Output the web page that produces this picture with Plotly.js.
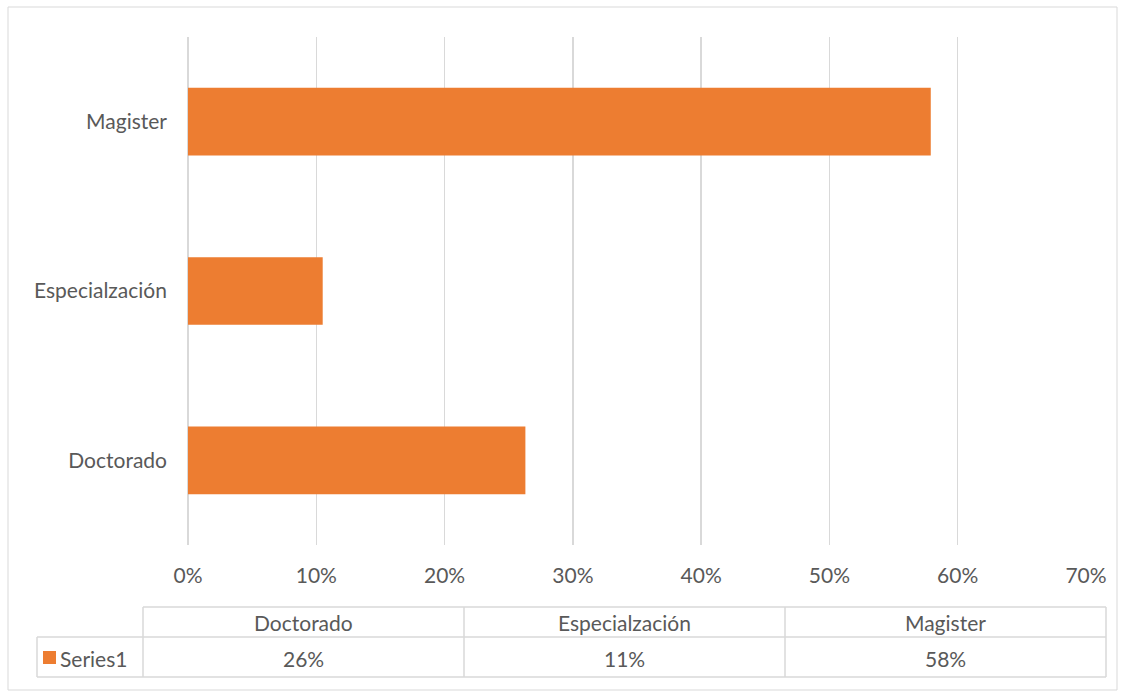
<!DOCTYPE html>
<html><head><meta charset="utf-8">
<script src="https://cdn.plot.ly/plotly-3.0.1.min.js"></script>
<style>body{margin:0;background:#fff}#c{width:1124px;height:700px}</style>
</head><body><div id="c"></div>
<script>
const categories = ["Doctorado", "Especialzación", "Magister"];
const seriesName = "Series1";
const values = [0.263, 0.105, 0.579];
const tickVals = [0, 0.1, 0.2, 0.3, 0.4, 0.5, 0.6, 0.7];
const tickText = ["0%", "10%", "20%", "30%", "40%", "50%", "60%", "70%"];

const W = 1124, H = 700;
const px = x => x / W, py = y => 1 - y / H;
const FONT = "Lato, 'Open Sans', sans-serif";
const FS = 21;
const TXT = "#595959", GRID = "#d9d9d9", BAR = "#ED7D31";

const shapes = [];
const annotations = [];
// outer border
shapes.push({type:"rect", xref:"paper", yref:"paper", x0:px(8), x1:px(1117), y0:py(690), y1:py(7), line:{color:GRID, width:1}});
// data table
const colX = [37, 143, 464, 785, 1106];
const line = (x0,y0,x1,y1) => shapes.push({type:"line", xref:"paper", yref:"paper", x0:px(x0), x1:px(x1), y0:py(y0), y1:py(y1), line:{color:GRID, width:1.5}});
line(143, 607, 1106, 607);
line(37, 637, 1106, 637);
line(37, 677, 1106, 677);
line(37, 637, 37, 677);
for (let i = 1; i < colX.length; i++) line(colX[i], 607, colX[i], 677);
categories.forEach((c, i) => {
  const cx = (colX[i+1] + colX[i+2]) / 2;
  annotations.push({xref:"paper", yref:"paper", x:px(cx), y:py(622), text:c, showarrow:false, xanchor:"center", yanchor:"middle", font:{family:FONT, size:FS, color:TXT}});
  annotations.push({xref:"paper", yref:"paper", x:px(cx), y:py(658), text:Math.round(values[i]*100) + "%", showarrow:false, xanchor:"center", yanchor:"middle", font:{family:FONT, size:FS, color:TXT}});
});
// legend key
shapes.push({type:"rect", xref:"paper", yref:"paper", x0:px(43), x1:px(56), y0:py(664), y1:py(651), fillcolor:BAR, line:{width:0}});
annotations.push({xref:"paper", yref:"paper", x:px(58), y:py(658), text:seriesName, showarrow:false, xanchor:"left", yanchor:"middle", font:{family:FONT, size:FS, color:TXT}});

Plotly.newPlot("c", [{
  type:"bar", orientation:"h", y:categories, x:values, name:seriesName,
  marker:{color:BAR}, hoverinfo:"skip"
}], {
  width:W, height:H, margin:{l:0, r:0, t:0, b:0},
  paper_bgcolor:"#fff", plot_bgcolor:"#fff",
  showlegend:false, bargap:0.6,
  font:{family:FONT, size:FS, color:TXT},
  xaxis:{domain:[px(188), px(1086)], range:[0, 0.7], tickvals:tickVals, ticktext:tickText,
    showgrid:true, gridcolor:GRID, gridwidth:1.5, zeroline:true, zerolinecolor:GRID, zerolinewidth:1.5,
    showline:false, ticks:"", ticklabelstandoff:16, tickfont:{family:FONT, size:FS, color:TXT}, fixedrange:true},
  yaxis:{domain:[py(545), py(37)], type:"category", showgrid:false, zeroline:false, showline:false,
    ticks:"", ticklabelstandoff:20, tickfont:{family:FONT, size:FS, color:TXT}, fixedrange:true},
  shapes:shapes, annotations:annotations
}, {staticPlot:true});
</script></body></html>
